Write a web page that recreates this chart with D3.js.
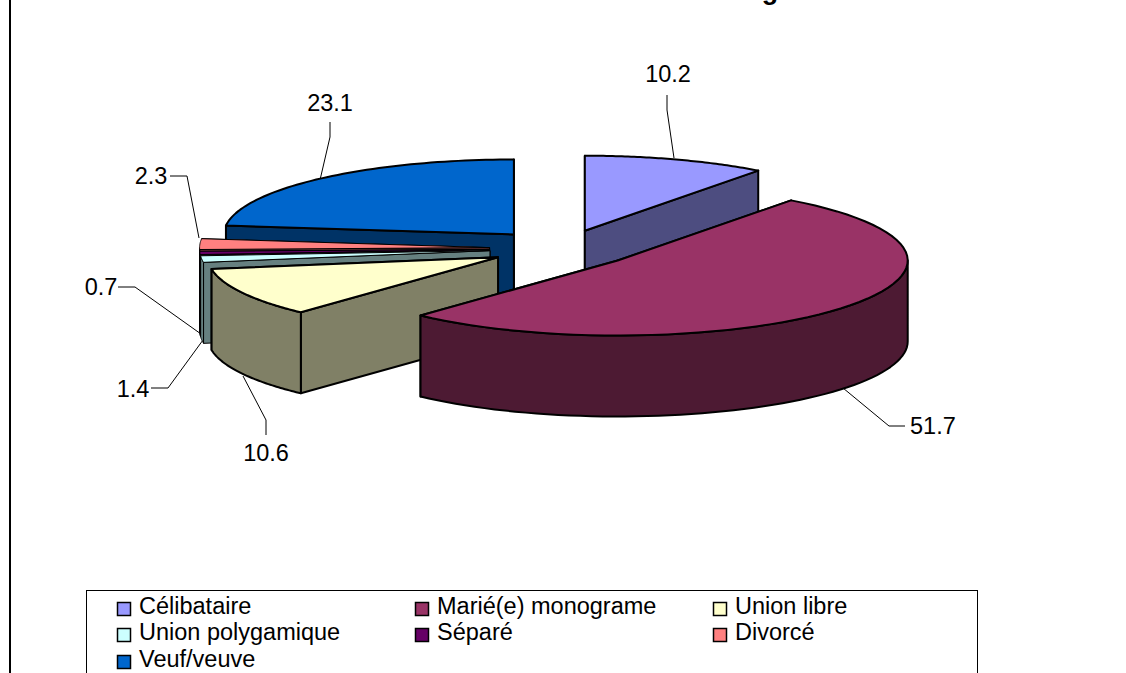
<!DOCTYPE html>
<html lang="fr">
<head>
    <meta charset="UTF-8">
    <title>Situation matrimoniale</title>
    <style>
        html, body { margin: 0; padding: 0; background: #fff; overflow: hidden; }
        text { font-family: "Liberation Sans", Arial, sans-serif; fill: #000; }
    </style>
</head>
<body>
<div id="chart"></div>
<script src="https://d3js.org/d3.v7.min.js"></script>
<script>
    // Values, clockwise from 12 o'clock
    const categories = ["Célibataire", "Marié(e) monograme", "Union libre", "Union polygamique", "Séparé", "Divorcé", "Veuf/veuve"];
    const values = [10.2, 51.7, 10.6, 1.4, 0.7, 2.3, 23.1];
    const labels = ["10.2", "51.7", "10.6", "1.4", "0.7", "2.3", "23.1"];
    const colors = ["#9999FF", "#993366", "#FFFFCC", "#CCFFFF", "#660066", "#FF8080", "#0066CC"];
    const sideColors = ["#4D4D80", "#4D1A33", "#808066", "#668080", "#330033", "#804040", "#003366"];

    // Where each data label sits and how its leader line runs (in draw order of categories)
    const labelSpots = [[668, 82], [910, 434], [266, 461], [133, 397], [101, 295], [151, 184], [330, 111]];
    const labelAnchors = ["middle", "start", "middle", "middle", "middle", "middle", "middle"];
    const leaderLines = [
        [[667, 95], [667, 110], [674, 158]],
        [[843, 388], [889, 426], [905, 426]],
        [[266, 435], [266, 420], [243, 376]],
        [[151, 388], [168, 388], [203, 340]],
        [[118, 287], [135, 287], [201, 334]],
        [[170, 176], [187, 176], [199, 238]],
        [[330, 122], [330, 137], [320, 180]]
    ];

    const W = 1126, H = 673;
    const cx = 562, cy = 248.5, rx = 290, ry = 75, depth = 81, explode = 0.25;

    const svg = d3.select("#chart").append("svg")
        .attr("width", W)
        .attr("height", H)
        .style("display", "block");

    // Unit circle to screen, flattened for the 3D look
    const xScale = d3.scaleLinear().domain([-1, 1]).range([cx - rx, cx + rx]);
    const yScale = d3.scaleLinear().domain([-1, 1]).range([cy - ry, cy + ry]);

    const slices = d3.pie().sort(null).value(d => d)(values).map((s, i) => {
        const mid = (s.startAngle + s.endAngle) / 2;
        return {
            i: i,
            a0: s.startAngle,
            a1: s.endAngle,
            ox: explode * Math.sin(mid),
            oy: -explode * Math.cos(mid)
        };
    });

    // Point on the rim of a slice at angle a, radius r (0 = apex), drop = px below top face
    function pt(s, a, r, drop) {
        return [
            xScale(s.ox + r * Math.sin(a)),
            yScale(s.oy - r * Math.cos(a)) + drop
        ];
    }

    function rim(s, a0, a1, drop) {
        return d3.range(0, 61).map(k => pt(s, a0 + (a1 - a0) * k / 60, 1, drop));
    }

    const line = d3.line();

    function face(pts, fill, sw) {
        svg.append("path")
            .attr("d", line(pts) + "Z")
            .attr("fill", fill)
            .attr("stroke", "#000")
            .attr("stroke-width", sw)
            .attr("stroke-linejoin", "round");
    }

    // Leader lines go under the pie
    leaderLines.forEach(l => {
        svg.append("path")
            .attr("d", line(l))
            .attr("fill", "none")
            .attr("stroke", "#000")
            .attr("stroke-width", 1);
    });

    // Back to front
    const drawOrder = [6, 5, 4, 3, 2, 0, 1];
    drawOrder.forEach(i => {
        const s = slices[i];
        const side = sideColors[i];
        const apex = pt(s, 0, 0, 0);
        const apexLow = pt(s, 0, 0, depth);
        // thin wedges would turn solid black with the full outline
        const sw = values[i] < 3 ? 1 : 2;

        const walls = [s.a0, s.a1]
            .map(a => ({ a: a, top: pt(s, a, 1, 0), low: pt(s, a, 1, depth) }))
            .sort((p, q) => p.top[1] - q.top[1]);
        walls.forEach(w => face([apex, w.top, w.low, apexLow], side, sw));

        // Outer wall, only the part turned to the viewer
        const from = Math.max(s.a0, Math.PI / 2), to = Math.min(s.a1, Math.PI * 1.5);
        if (to > from) {
            face(rim(s, from, to, 0).concat(rim(s, from, to, depth).reverse()), side, sw);
        }

        face([apex].concat(rim(s, s.a0, s.a1, 0)), colors[i], sw);
    });

    // Data labels
    labels.forEach((t, i) => {
        svg.append("text")
            .attr("x", labelSpots[i][0])
            .attr("y", labelSpots[i][1])
            .attr("text-anchor", labelAnchors[i])
            .attr("font-size", 23.5)
            .text(t);
    });

    // Only the tail of the clipped title shows at the top edge
    svg.append("text")
        .attr("x", 770)
        .attr("y", -1)
        .attr("text-anchor", "middle")
        .attr("font-size", 27)
        .attr("font-weight", "bold")
        .text("g");

    // Outer frame of the chart, left edge only is in view
    svg.append("line")
        .attr("x1", 10).attr("x2", 10)
        .attr("y1", 0).attr("y2", H)
        .attr("stroke", "#000")
        .attr("stroke-width", 2);

    // Legend, runs off the bottom
    svg.append("rect")
        .attr("x", 86.5).attr("y", 590.5)
        .attr("width", 891).attr("height", 100)
        .attr("fill", "#fff")
        .attr("stroke", "#000")
        .attr("stroke-width", 1);

    const colX = d3.scalePoint().domain([0, 1, 2]).range([117, 713]);
    const rowY = d3.scalePoint().domain([0, 1, 2]).range([613.5, 667]);

    categories.forEach((c, i) => {
        const x = colX(i % 3), y = rowY(Math.floor(i / 3));
        svg.append("rect")
            .attr("x", x + 0.5).attr("y", Math.round(y) - 11.5)
            .attr("width", 13).attr("height", 13)
            .attr("fill", colors[i])
            .attr("stroke", "#000")
            .attr("stroke-width", 1.5);
        svg.append("text")
            .attr("x", x + 22)
            .attr("y", y)
            .attr("font-size", 23.5)
            .text(c);
    });
</script>
</body>
</html>
